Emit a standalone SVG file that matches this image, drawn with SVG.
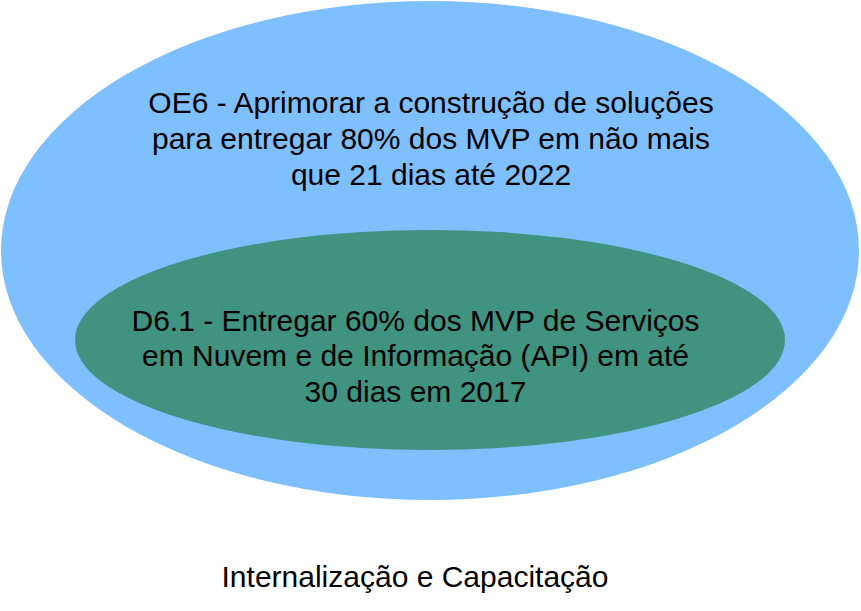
<svg xmlns="http://www.w3.org/2000/svg" width="861" height="611" viewBox="0 0 861 611">
<style>
text{font-family:"Liberation Sans",Arial,sans-serif;font-size:30px;fill:#000;text-anchor:middle}
</style>
<rect width="861" height="611" fill="#fff"/>
<g id="oe6">
<ellipse cx="430" cy="250.5" rx="429" ry="249.5" fill="#7EBFFF"/>
<text x="431" y="113">OE6 - Aprimorar a construção de soluções</text>
<text x="431" y="149">para entregar 80% dos MVP em não mais</text>
<text x="431" y="185">que 21 dias até 2022</text>
</g>
<g id="d61">
<ellipse cx="430" cy="340" rx="355" ry="110" fill="#40937F"/>
<text x="415.5" y="331">D6.1 - Entregar 60% dos MVP de Serviços</text>
<text x="415.5" y="366">em Nuvem e de Informação (API) em até</text>
<text x="415.5" y="402">30 dias em 2017</text>
</g>
<g id="label">
<text x="415" y="587">Internalização e Capacitação</text>
</g>
<g id="connectors"/>
</svg>
